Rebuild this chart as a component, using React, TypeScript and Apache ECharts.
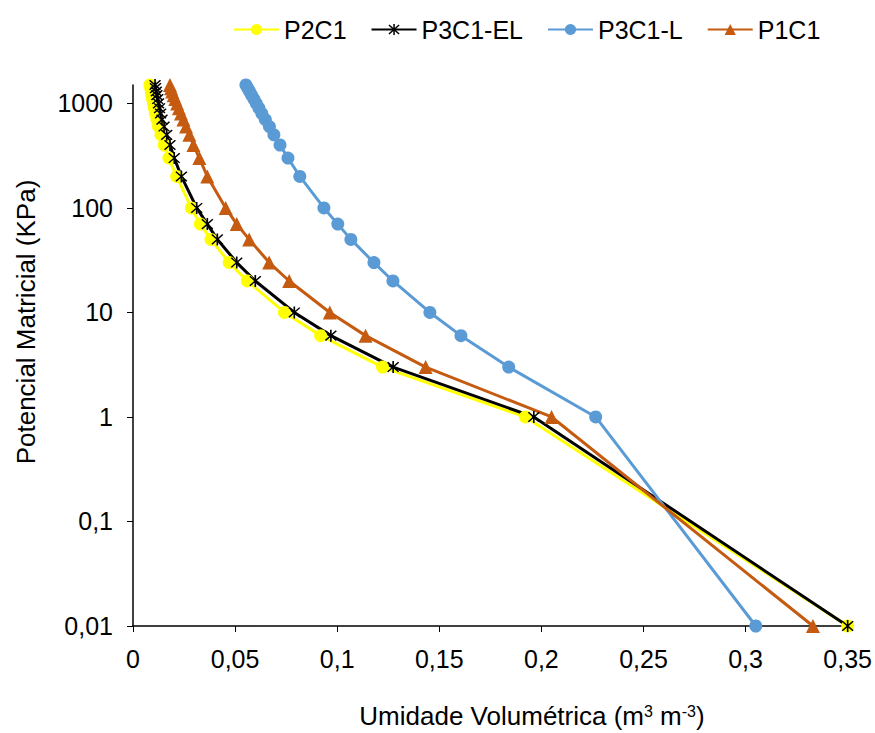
import React, { useEffect, useRef } from "react";
import * as echarts from "echarts";

const pressures = [0.01, 1, 3, 6, 10, 20, 30, 50, 70, 100, 200, 300, 400, 500, 600, 700, 800, 900, 1000, 1100, 1200, 1300, 1400, 1500];

const p2c1 = [0.35, 0.1922, 0.1222, 0.0919, 0.0742, 0.056, 0.0471, 0.0382, 0.033, 0.0286, 0.0214, 0.0176, 0.0153, 0.0137, 0.0125, 0.0117, 0.011, 0.0105, 0.01, 0.0096, 0.0093, 0.009, 0.0087, 0.0083];
const p3c1EL = [0.35, 0.1963, 0.1274, 0.0969, 0.079, 0.0599, 0.0508, 0.0413, 0.0364, 0.0312, 0.0237, 0.0202, 0.0181, 0.0165, 0.0152, 0.0142, 0.0135, 0.013, 0.0125, 0.0121, 0.0117, 0.0114, 0.011, 0.0108];
const p3c1L = [0.305, 0.2266, 0.184, 0.1606, 0.1454, 0.1273, 0.118, 0.1067, 0.1003, 0.0935, 0.0817, 0.0759, 0.072, 0.069, 0.0668, 0.0648, 0.0631, 0.0617, 0.0604, 0.0592, 0.0581, 0.0571, 0.0562, 0.0553];
const p1c1 = [0.333, 0.205, 0.1433, 0.1139, 0.0964, 0.0765, 0.0667, 0.0569, 0.0508, 0.0454, 0.0364, 0.0325, 0.0296, 0.0276, 0.026, 0.0247, 0.0235, 0.0225, 0.0216, 0.0207, 0.0199, 0.0192, 0.0186, 0.0181];

const seriesNames = ["P2C1", "P3C1-EL", "P3C1-L", "P1C1"];
const xTicks = { min: 0, max: 0.35, interval: 0.05 };
const yRange = { min: 0.01, max: 1500 };

const FONT = "'Liberation Sans', Arial, sans-serif";

const asterisk =
  "path://M-0.12,-1 L0.12,-1 L0.12,1 L-0.12,1 Z M-0.88,-0.72 L-0.72,-0.88 L0.88,0.72 L0.72,0.88 Z M0.72,-0.88 L0.88,-0.72 L-0.72,0.88 L-0.88,0.72 Z";

const fmt = (v: number) => {
  const n = Number(Number(v).toPrecision(6));
  return String(n).replace(".", ",");
};

export default function App() {
  const ref = useRef<HTMLDivElement>(null);
  useEffect(() => {
    if (!ref.current) return;
    const chart = echarts.init(ref.current, null, { renderer: "svg" });
    const pair = (xs: number[]) => xs.map((x, i) => [x, pressures[i]]);
    const mk = (name: string, xs: number[], color: string, symbol: string, size: number) => ({
      name,
      type: "line",
      data: pair(xs),
      symbol,
      symbolSize: size,
      showSymbol: true,
      lineStyle: { color, width: 3 },
      itemStyle: { color },
      z: 2,
    });
    chart.setOption({
      animation: false,
      backgroundColor: "#ffffff",
      textStyle: { fontFamily: FONT },
      legend: {
        data: seriesNames,
        left: 228,
        top: 12,
        itemWidth: 45,
        itemHeight: 14,
        itemGap: 24,
        textStyle: { fontSize: 25, color: "#000", fontFamily: FONT },
      },
      grid: { left: 133, right: 27, top: 85, bottom: 107, containLabel: false },
      xAxis: {
        type: "value",
        min: xTicks.min,
        max: xTicks.max,
        interval: xTicks.interval,
        splitLine: { show: false },
        axisLine: { onZero: false, lineStyle: { color: "#000", width: 1.5 } },
        axisTick: { show: true, inside: false, length: 6, lineStyle: { color: "#000" } },
        axisLabel: { formatter: fmt, fontSize: 25, color: "#000", margin: 20, fontFamily: FONT },
      },
      yAxis: {
        type: "log",
        logBase: 10,
        min: yRange.min,
        max: yRange.max,
        splitLine: { show: false },
        minorTick: { show: false },
        axisLine: { show: true, lineStyle: { color: "#000", width: 1.5 } },
        axisTick: { show: true, inside: false, length: 6, lineStyle: { color: "#000" } },
        axisLabel: { formatter: fmt, fontSize: 25, color: "#000", margin: 20, fontFamily: FONT },
      },
      graphic: [
        {
          type: "text",
          x: 26,
          y: 322,
          rotation: Math.PI / 2,
          style: {
            text: "Potencial Matricial (KPa)",
            fontSize: 26,
            fontFamily: FONT,
            fill: "#000",
            align: "center",
            verticalAlign: "middle",
          },
        },
        {
          type: "text",
          x: 532,
          y: 716,
          style: {
            text: "{a|Umidade Volumétrica (m}{s|3}{a| m}{s|-3}{a|)}",
            fontFamily: FONT,
            fill: "#000",
            align: "center",
            verticalAlign: "middle",
            rich: {
              a: { fontSize: 26, fontFamily: FONT, fill: "#000", verticalAlign: "bottom", lineHeight: 26 },
              s: { fontSize: 16, fontFamily: FONT, fill: "#000", verticalAlign: "top", lineHeight: 26 },
            },
          },
        },
      ],
      series: [
        mk("P2C1", p2c1, "#FFFF00", "circle", 13),
        mk("P3C1-EL", p3c1EL, "#000000", asterisk, 12),
        mk("P3C1-L", p3c1L, "#5B9BD5", "circle", 13),
        mk("P1C1", p1c1, "#C55A11", "triangle", 14),
      ],
    });
    return () => chart.dispose();
  }, []);
  return <div ref={ref} style={{ position: "absolute", left: 0, top: 0, width: 875, height: 733 }} />;
}
